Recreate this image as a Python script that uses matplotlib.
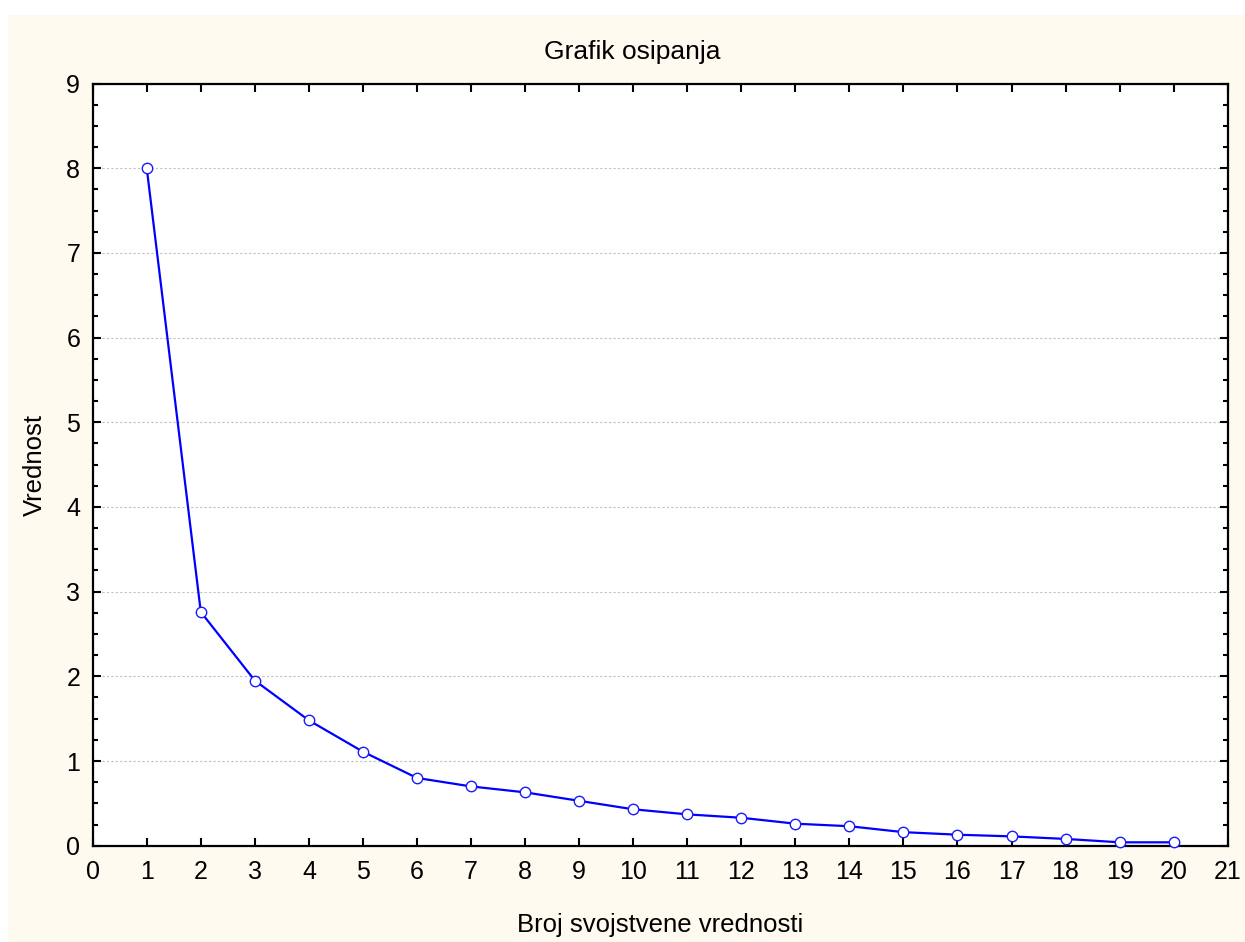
import matplotlib
matplotlib.use("Agg")
import matplotlib.pyplot as plt
from matplotlib.patches import Rectangle
from matplotlib.ticker import MultipleLocator

# Data
components = list(range(1, 21))
eigenvalues = [8.00, 2.76, 1.95, 1.48, 1.11, 0.80, 0.70, 0.63, 0.53, 0.43,
               0.37, 0.33, 0.26, 0.23, 0.16, 0.13, 0.11, 0.08, 0.04, 0.04]
x_ticks = list(range(0, 22))
y_ticks = list(range(0, 10))

title = "Grafik osipanja"
xlabel = "Broj svojstvene vrednosti"
ylabel = "Vrednost"

plt.rcParams['font.family'] = ['Liberation Sans', 'DejaVu Sans']

W, H = 1245, 942
fig = plt.figure(figsize=(W / 100, H / 100), dpi=100, facecolor='white')
# cream background panel
fig.patches.append(Rectangle((8 / W, 0), 1 - 8 / W, (H - 15) / H,
                             transform=fig.transFigure, facecolor='#FEFAF0',
                             edgecolor='none', zorder=-10))

left, right, top, bottom = 92.7, 1227.7, 83.5, 845.7
ax = fig.add_axes([left / W, 1 - bottom / H, (right - left) / W, (bottom - top) / H])
ax.set_zorder(1)
ax.set_facecolor('white')

ax.plot(components, eigenvalues, color='#0000FF', lw=1.6, marker='o',
        markersize=7.5, markerfacecolor='white', markeredgecolor='#1a1aFF',
        markeredgewidth=1.0, zorder=3, clip_on=False)

ax.set_xlim(0, 21)
ax.set_ylim(0, 9)
ax.set_xticks(x_ticks)
ax.set_yticks(y_ticks)
ax.yaxis.set_minor_locator(MultipleLocator(0.25))

ax.grid(axis='y', which='major', color='#c0c0c0', linestyle=(0, (2, 2)), linewidth=0.8)
ax.set_axisbelow(True)

for s in ax.spines.values():
    s.set_linewidth(1.6)
    s.set_color('black')

ax.tick_params(axis='both', which='major', direction='in', length=6, width=1.5,
               labelsize=18, colors='black', top=True, right=True)
ax.tick_params(axis='y', which='minor', direction='in', length=3.5, width=1.5,
               left=True, right=True)
ax.tick_params(axis='x', which='major', pad=10)
ax.tick_params(axis='y', which='major', pad=9)

fig.text(632 / W, 1 - 52 / H, title, ha='center', va='center', fontsize=19)

ax.set_xlabel(xlabel, fontsize=18.5)
ax.xaxis.set_label_coords(0.5, (bottom - 925) / (bottom - top))
ax.xaxis.label.set_va('center')
ax.set_ylabel(ylabel, fontsize=18.5)
ax.yaxis.set_label_coords((35 - left) / (right - left), 0.5)
ax.yaxis.label.set_va('center')
ax.yaxis.label.set_ha('center')

fig.savefig('out.png', dpi=100, facecolor='white')
